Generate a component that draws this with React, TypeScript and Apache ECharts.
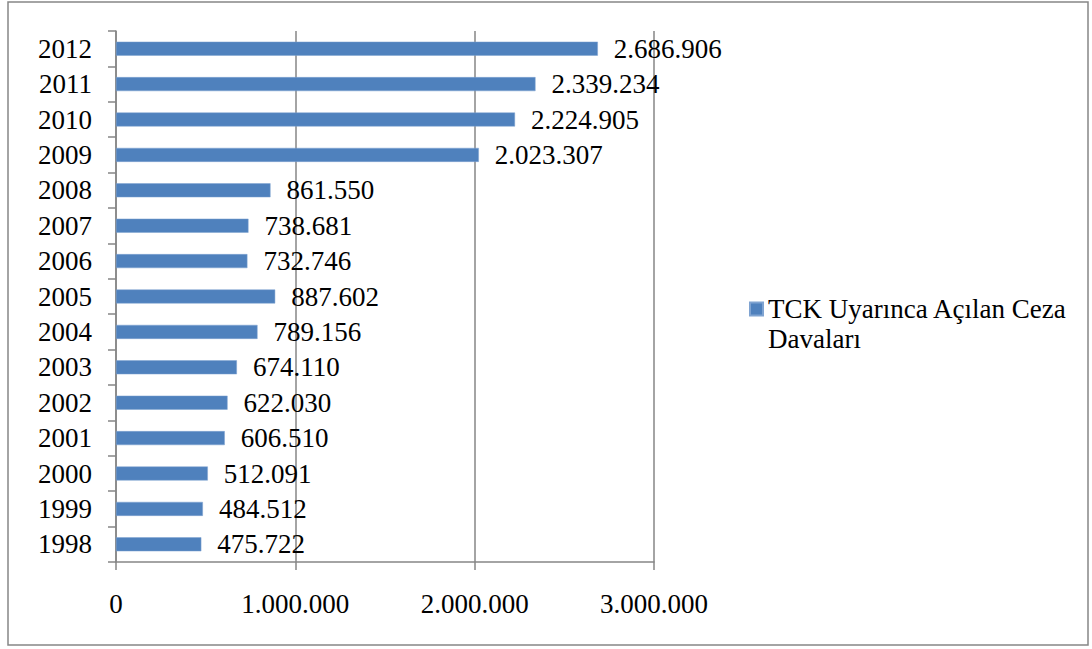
import React, { useEffect, useRef } from "react";
import * as echarts from "echarts";

const years = ["1998","1999","2000","2001","2002","2003","2004","2005","2006","2007","2008","2009","2010","2011","2012"];
const cases = [475722,484512,512091,606510,622030,674110,789156,887602,732746,738681,861550,2023307,2224905,2339234,2686906];
const seriesName = "TCK Uyarınca Açılan Ceza Davaları";
const xTicks = [0, 1000000, 2000000, 3000000];

const fmt = (v: number) => String(Math.round(v)).replace(/\B(?=(\d{3})+(?!\d))/g, ".");

const FONT = "Liberation Serif";
const GREY = "#868686";
const FS = 27;

export default function App() {
  const ref = useRef<HTMLDivElement>(null);
  useEffect(() => {
    document.body.style.margin = "0";
    const chart = echarts.init(ref.current!, null, { renderer: "svg" });
    chart.setOption({
      animation: false,
      backgroundColor: "#ffffff",
      textStyle: { fontFamily: FONT },
      graphic: [
        {
          type: "rect",
          shape: { x: 8, y: 2, width: 1080, height: 643 },
          style: { fill: "none", stroke: GREY, lineWidth: 1.5 },
          silent: true,
          z: -1,
        },
      ],
      grid: { left: 116, right: 438, top: 31, bottom: 87, containLabel: false },
      legend: {
        show: true,
        left: 749,
        top: 264,
        padding: 0,
        orient: "vertical",
        icon: "rect",
        itemWidth: 13,
        itemHeight: 13,
        data: [seriesName],
        formatter: () => " \nTCK Uyarınca Açılan Ceza\nDavaları",
        textStyle: { fontFamily: FONT, fontSize: FS, color: "#000", lineHeight: 30 },
      },
      xAxis: {
        type: "value",
        min: xTicks[0],
        max: xTicks[xTicks.length - 1],
        interval: 1000000,
        axisLine: { show: true, lineStyle: { color: GREY, width: 1.5 } },
        axisTick: { show: true, length: 8, lineStyle: { color: GREY, width: 1.5 } },
        splitLine: { show: true, lineStyle: { color: GREY, width: 1.5 } },
        axisLabel: {
          formatter: (v: number) => fmt(v),
          fontFamily: FONT,
          fontSize: FS,
          color: "#000",
          margin: 28,
        },
      },
      yAxis: {
        type: "category",
        data: years,
        axisLine: { show: true, lineStyle: { color: GREY, width: 1.5 } },
        axisTick: { show: true, length: 8, lineStyle: { color: GREY, width: 1.5 } },
        axisLabel: { fontFamily: FONT, fontSize: FS, color: "#000", margin: 24 },
      },
      series: [
        {
          name: seriesName,
          type: "bar",
          data: cases,
          barWidth: 14,
          itemStyle: { color: "#4F81BD", borderColor: "#7FA3D1", borderWidth: 0.5 },
          label: {
            show: true,
            position: "right",
            distance: 16,
            formatter: (p: any) => fmt(p.value),
            fontFamily: FONT,
            fontSize: FS,
            color: "#000",
          },
        },
      ],
    });
    return () => chart.dispose();
  }, []);
  return <div ref={ref} style={{ width: 1092, height: 649 }} />;
}
